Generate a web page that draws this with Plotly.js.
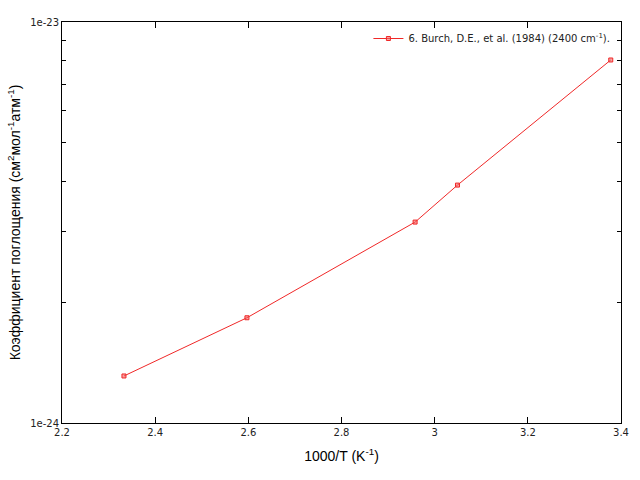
<!DOCTYPE html>
<html>
<head>
<meta charset="utf-8">
<script src="https://cdn.plot.ly/plotly-3.0.1.min.js"></script>
<style>html,body{margin:0;padding:0;background:#fff;}#chart{width:640px;height:480px;}</style>
</head>
<body>
<div id="chart"></div>
<script>
const seriesName = "6. Burch, D.E., et al. (1984) (2400 cm<sup>-1</sup>).";
const xValues = [2.333, 2.597, 2.958, 3.049, 3.378];
const yValues = [1.31e-24, 1.83e-24, 3.17e-24, 3.92e-24, 8.04e-24];
const yMajorTicks = [1e-24, 1e-23];
const yMajorLabels = ["1e-24", "1e-23"];
const yMinorTicks = [2e-24, 3e-24, 4e-24, 5e-24, 6e-24, 7e-24, 8e-24, 9e-24];
const xTicks = [2.2, 2.4, 2.6, 2.8, 3, 3.2, 3.4];
const xTickLabels = ["2.2", "2.4", "2.6", "2.8", "3", "3.2", "3.4"];

const trace = {
  x: xValues, y: yValues, name: seriesName,
  type: 'scatter', mode: 'lines+markers',
  line: {color: 'rgb(240,40,40)', width: 1},
  marker: {symbol: 'square', size: 4, color: 'rgba(240,100,100,0.6)', line: {color: 'rgb(240,40,40)', width: 1}}
};

const layout = {
  width: 640, height: 480,
  margin: {l: 62, r: 19, t: 22, b: 57},
  paper_bgcolor: '#fff', plot_bgcolor: '#fff',
  showlegend: true,
  legend: {x: 0.99, y: 0.995, xanchor: 'right', yanchor: 'top', bgcolor: 'rgba(0,0,0,0)',
           font: {family: 'DejaVu Sans', size: 10, color: '#222'}},
  xaxis: {
    range: [2.2, 3.4], tickvals: xTicks, ticktext: xTickLabels,
    ticks: 'inside', ticklen: 6, tickcolor: '#000', showline: true, linecolor: '#000', linewidth: 1,
    mirror: 'ticks', showgrid: false, zeroline: false,
    tickfont: {family: 'DejaVu Sans', size: 10, color: '#222'},
    title: {text: '1000/T (K<sup>-1</sup>)', font: {family: 'Liberation Sans', size: 14, color: '#000'}, standoff: 14}
  },
  yaxis: {
    type: 'log', range: [-24, -23], tickvals: yMajorTicks, ticktext: yMajorLabels,
    ticks: 'inside', ticklen: 6, tickcolor: '#000', showline: true, linecolor: '#000', linewidth: 1,
    mirror: 'ticks', showgrid: false, zeroline: false,
    minor: {tickvals: yMinorTicks, ticks: 'inside', ticklen: 4, tickcolor: '#000', showgrid: false},
    tickfont: {family: 'DejaVu Sans', size: 10, color: '#222'},
    title: {text: 'Коэффициент поглощения (см<sup>2</sup>мол<sup>-1</sup>атм<sup>-1</sup>)', font: {family: 'Liberation Sans', size: 14, color: '#000'}, standoff: 6}
  }
};

Plotly.newPlot('chart', [trace], layout, {displayModeBar: false, staticPlot: true});
</script>
</body>
</html>
